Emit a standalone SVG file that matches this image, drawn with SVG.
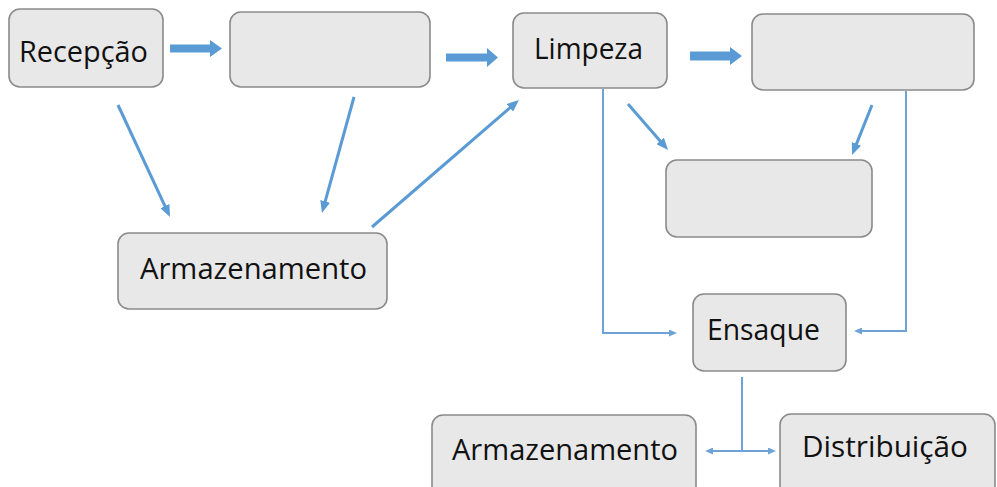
<svg xmlns="http://www.w3.org/2000/svg" width="997" height="487" viewBox="0 0 997 487">
  <style>
    .box { fill: #e8e8e8; stroke: #8a8a8a; stroke-width: 1.6; }
    .label { font-family: "Open Sans", "Liberation Sans", sans-serif; font-size: 29px; fill: #111111; text-anchor: middle; }
    .block { fill: #5b9bd5; }
    .diag { fill: none; stroke: #5b9bd5; stroke-width: 3; marker-end: url(#head); }
    .elbow { fill: none; stroke: #6fa3d8; stroke-width: 2; }
  </style>
  <defs>
    <marker id="head" markerUnits="userSpaceOnUse" markerWidth="12" markerHeight="10" refX="4" refY="5" orient="auto">
      <path d="M0,0 L12,5 L0,10 z" fill="#5b9bd5"/>
    </marker>
    <marker id="tip" markerUnits="userSpaceOnUse" markerWidth="8" markerHeight="7" refX="3" refY="3.5" orient="auto-start-reverse">
      <path d="M0,0 L8,3.5 L0,7 z" fill="#6fa3d8"/>
    </marker>
  </defs>
  <rect width="997" height="487" fill="#ffffff"/>

  <!-- connectors -->
  <g id="connectors">
    <!-- block arrows along the top row -->
    <polygon class="block" points="170,44.5 210,44.5 210,40 222,48.5 210,57 210,52.5 170,52.5"/>
    <polygon class="block" points="446,53.5 487,53.5 487,48 498,57.5 487,67 487,61.5 446,61.5"/>
    <polygon class="block" points="690,51.5 730,51.5 730,47 742,56 730,65 730,60.5 690,60.5"/>
    <!-- diagonal arrows -->
    <line class="diag" x1="118" y1="105" x2="166.6" y2="209.7"/>
    <line class="diag" x1="354" y1="97" x2="324.1" y2="205.3"/>
    <line class="diag" x1="372" y1="227" x2="512.9" y2="105.2"/>
    <line class="diag" x1="628" y1="104" x2="662.8" y2="144"/>
    <line class="diag" x1="872" y1="105" x2="855" y2="147.6"/>
    <!-- elbow connectors into Ensaque -->
    <path class="elbow" d="M603,89 V333 H672" marker-end="url(#tip)"/>
    <path class="elbow" d="M906,91 V331 H859" marker-end="url(#tip)"/>
    <!-- split below Ensaque -->
    <path class="elbow" d="M742,377 V451"/>
    <path class="elbow" d="M710,451 H771" marker-start="url(#tip)" marker-end="url(#tip)"/>
  </g>

  <g id="recepcao">
    <rect class="box" x="9" y="9" width="154" height="78" rx="11"/>
    <text class="label" x="83.5" y="62" font-size="30" textLength="129" lengthAdjust="spacingAndGlyphs">Recepção</text>
  </g>
  <g id="etapa-2">
    <rect class="box" x="230" y="12" width="200" height="75" rx="11"/>
  </g>
  <g id="limpeza">
    <rect class="box" x="513" y="13" width="154" height="75" rx="11"/>
    <text class="label" x="588.5" y="59" textLength="109" lengthAdjust="spacingAndGlyphs">Limpeza</text>
  </g>
  <g id="etapa-4">
    <rect class="box" x="752" y="14" width="222" height="76" rx="11"/>
  </g>
  <g id="etapa-5">
    <rect class="box" x="666" y="160" width="206" height="77" rx="11"/>
  </g>
  <g id="armazenamento-1">
    <rect class="box" x="118" y="233" width="269" height="76" rx="11"/>
    <text class="label" x="253.5" y="279" textLength="227" lengthAdjust="spacingAndGlyphs">Armazenamento</text>
  </g>
  <g id="ensaque">
    <rect class="box" x="693" y="294" width="153" height="77" rx="11"/>
    <text class="label" x="763.5" y="340" textLength="113" lengthAdjust="spacingAndGlyphs">Ensaque</text>
  </g>
  <g id="armazenamento-2">
    <rect class="box" x="432" y="415" width="264" height="82" rx="11"/>
    <text class="label" x="565" y="460" textLength="226" lengthAdjust="spacingAndGlyphs">Armazenamento</text>
  </g>
  <g id="distribuicao">
    <rect class="box" x="780" y="414" width="215" height="83" rx="11"/>
    <text class="label" x="885" y="457" textLength="166" lengthAdjust="spacingAndGlyphs">Distribuição</text>
  </g>
</svg>
